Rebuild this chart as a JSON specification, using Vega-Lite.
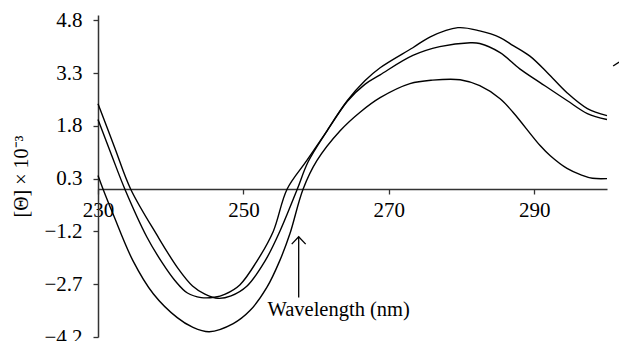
{
  "$schema": "https://vega.github.io/schema/vega-lite/v6.json",
  "width": 509,
  "height": 322,
  "autosize": {"type": "none"},
  "padding": {"left": 98, "top": 15, "right": 12, "bottom": 4},
  "background": "white",
  "config": {
    "view": {"stroke": null},
    "font": "Liberation Serif",
    "axis": {
      "grid": false,
      "domainColor": "#333333",
      "domainWidth": 1.5,
      "tickColor": "#333333",
      "tickWidth": 1.3,
      "labelColor": "#000000",
      "titleColor": "#000000",
      "labelFont": "Liberation Serif",
      "titleFont": "Liberation Serif",
      "labelFontSize": 21,
      "titleFontSize": 20,
      "titleFontWeight": "normal"
    }
  },
  "datasets": {
    "curves": [
      {"s": "A", "wl": 230.0, "v": 2.43},
      {"s": "A", "wl": 232.3, "v": 1.18},
      {"s": "A", "wl": 234.5, "v": 0.0},
      {"s": "A", "wl": 238.1, "v": -1.3},
      {"s": "A", "wl": 241.0, "v": -2.25},
      {"s": "A", "wl": 243.0, "v": -2.75},
      {"s": "A", "wl": 244.7, "v": -2.98},
      {"s": "A", "wl": 246.5, "v": -3.1},
      {"s": "A", "wl": 248.3, "v": -3.03},
      {"s": "A", "wl": 250.5, "v": -2.75},
      {"s": "A", "wl": 253.0, "v": -2.03},
      {"s": "A", "wl": 255.0, "v": -1.2},
      {"s": "A", "wl": 257.4, "v": 0.0},
      {"s": "A", "wl": 258.9, "v": 0.78},
      {"s": "A", "wl": 261.5, "v": 1.66},
      {"s": "A", "wl": 264.3, "v": 2.52},
      {"s": "A", "wl": 266.7, "v": 3.08},
      {"s": "A", "wl": 268.8, "v": 3.45},
      {"s": "A", "wl": 273.3, "v": 4.02},
      {"s": "A", "wl": 275.7, "v": 4.33},
      {"s": "A", "wl": 279.5, "v": 4.59},
      {"s": "A", "wl": 282.5, "v": 4.5},
      {"s": "A", "wl": 285.3, "v": 4.31},
      {"s": "A", "wl": 287.1, "v": 4.08},
      {"s": "A", "wl": 289.4, "v": 3.78},
      {"s": "A", "wl": 291.8, "v": 3.31},
      {"s": "A", "wl": 294.5, "v": 2.74},
      {"s": "A", "wl": 297.3, "v": 2.29},
      {"s": "A", "wl": 300.0, "v": 2.09},
      {"s": "B", "wl": 230.0, "v": 1.98},
      {"s": "B", "wl": 231.9, "v": 0.95},
      {"s": "B", "wl": 233.7, "v": 0.0},
      {"s": "B", "wl": 236.7, "v": -1.35},
      {"s": "B", "wl": 238.8, "v": -2.08},
      {"s": "B", "wl": 240.6, "v": -2.6},
      {"s": "B", "wl": 242.3, "v": -2.95},
      {"s": "B", "wl": 244.2, "v": -3.08},
      {"s": "B", "wl": 246.0, "v": -3.07},
      {"s": "B", "wl": 247.5, "v": -2.98},
      {"s": "B", "wl": 249.5, "v": -2.72},
      {"s": "B", "wl": 251.9, "v": -2.03},
      {"s": "B", "wl": 254.1, "v": -1.2},
      {"s": "B", "wl": 256.0, "v": 0.0},
      {"s": "B", "wl": 258.7, "v": 0.81},
      {"s": "B", "wl": 261.5, "v": 1.66},
      {"s": "B", "wl": 264.3, "v": 2.5},
      {"s": "B", "wl": 266.7, "v": 2.98},
      {"s": "B", "wl": 268.8, "v": 3.25},
      {"s": "B", "wl": 273.3, "v": 3.8},
      {"s": "B", "wl": 277.0, "v": 4.05},
      {"s": "B", "wl": 281.2, "v": 4.16},
      {"s": "B", "wl": 282.5, "v": 4.14},
      {"s": "B", "wl": 285.3, "v": 3.88},
      {"s": "B", "wl": 288.0, "v": 3.42},
      {"s": "B", "wl": 290.8, "v": 3.03},
      {"s": "B", "wl": 294.5, "v": 2.52},
      {"s": "B", "wl": 297.3, "v": 2.15},
      {"s": "B", "wl": 300.0, "v": 1.98},
      {"s": "C", "wl": 230.0, "v": 0.39},
      {"s": "C", "wl": 230.7, "v": 0.0},
      {"s": "C", "wl": 232.1, "v": -0.72},
      {"s": "C", "wl": 234.8, "v": -2.03},
      {"s": "C", "wl": 237.6, "v": -2.97},
      {"s": "C", "wl": 240.9, "v": -3.65},
      {"s": "C", "wl": 243.0, "v": -3.92},
      {"s": "C", "wl": 245.3, "v": -4.05},
      {"s": "C", "wl": 248.6, "v": -3.82},
      {"s": "C", "wl": 250.9, "v": -3.45},
      {"s": "C", "wl": 253.2, "v": -2.8},
      {"s": "C", "wl": 255.0, "v": -2.03},
      {"s": "C", "wl": 256.4, "v": -1.26},
      {"s": "C", "wl": 258.2, "v": 0.0},
      {"s": "C", "wl": 260.1, "v": 0.81},
      {"s": "C", "wl": 263.3, "v": 1.66},
      {"s": "C", "wl": 266.0, "v": 2.18},
      {"s": "C", "wl": 268.8, "v": 2.6},
      {"s": "C", "wl": 272.9, "v": 3.0},
      {"s": "C", "wl": 276.0, "v": 3.1},
      {"s": "C", "wl": 279.8, "v": 3.11},
      {"s": "C", "wl": 282.5, "v": 2.94},
      {"s": "C", "wl": 285.3, "v": 2.57},
      {"s": "C", "wl": 287.1, "v": 2.18},
      {"s": "C", "wl": 290.8, "v": 1.24},
      {"s": "C", "wl": 292.2, "v": 0.95},
      {"s": "C", "wl": 294.5, "v": 0.59},
      {"s": "C", "wl": 296.5, "v": 0.4},
      {"s": "C", "wl": 298.0, "v": 0.31},
      {"s": "C", "wl": 300.0, "v": 0.3}
    ],
    "arrows": [
      {"g": "shaft", "o": 1, "wl": 257.6, "v": -1.35},
      {"g": "shaft", "o": 2, "wl": 257.6, "v": -3.08},
      {"g": "head", "o": 1, "wl": 256.64, "v": -1.56},
      {"g": "head", "o": 2, "wl": 257.6, "v": -1.35},
      {"g": "head", "o": 3, "wl": 258.56, "v": -1.56},
      {"g": "frag", "o": 1, "wl": 300.84, "v": 3.5},
      {"g": "frag", "o": 2, "wl": 301.67, "v": 3.61}
    ],
    "labels": [
      {"wl": 263.1, "v": -3.43, "t": "Wavelength (nm)"}
    ]
  },
  "encoding": {
    "x": {
      "field": "wl",
      "type": "quantitative",
      "scale": {"domain": [230, 300], "nice": false, "zero": false},
      "axis": {
        "title": null,
        "values": [230, 250, 270, 290],
        "offset": -148,
        "tickSize": 5,
        "labelPadding": 5,
        "labelFlush": false,
        "labelOverlap": false
      }
    },
    "y": {
      "field": "v",
      "type": "quantitative",
      "scale": {"domain": [-4.2, 4.95], "nice": false, "zero": false},
      "axis": {
        "title": "[Θ] × 10⁻³",
        "values": [4.8, 3.3, 1.8, 0.3, -1.2, -2.7, -4.2],
        "format": ".1f",
        "tickSize": 5,
        "labelPadding": 11,
        "titlePadding": 12,
        "labelOverlap": false
      }
    }
  },
  "layer": [
    {
      "data": {"name": "curves"},
      "mark": {"type": "line", "interpolate": "catmull-rom", "color": "#000000", "strokeWidth": 1.4},
      "encoding": {"detail": {"field": "s"}}
    },
    {
      "data": {"name": "arrows"},
      "mark": {"type": "line", "color": "#000000", "strokeWidth": 1.3},
      "encoding": {"detail": {"field": "g"}, "order": {"field": "o", "type": "quantitative"}}
    },
    {
      "data": {"name": "labels"},
      "mark": {"type": "text", "fontSize": 20.5, "align": "center", "baseline": "middle", "color": "#000000", "font": "Liberation Serif"},
      "encoding": {"text": {"field": "t"}}
    }
  ]
}
